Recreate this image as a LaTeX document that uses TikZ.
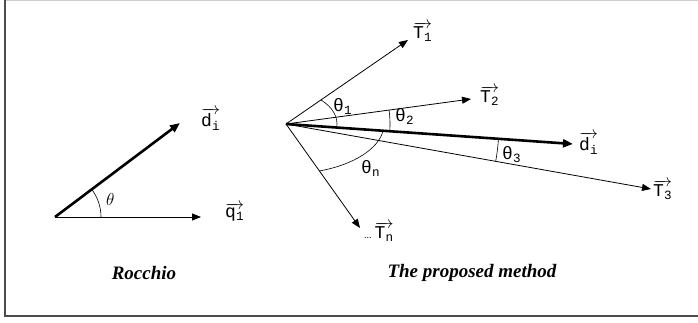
\documentclass[tikz,border=0pt]{standalone}
\usepackage{fontspec}
\setmainfont{Liberation Serif}
\newfontfamily\monofont{Liberation Mono}
\usetikzlibrary{arrows.meta}
\newcommand{\ovec}[2]{$\overrightarrow{\hbox{#1\textsubscript{#2}}}$}

\begin{document}
\begin{tikzpicture}[x=1pt,y=1pt,>={Triangle[length=9pt,width=7pt]},
    vec/.style={->,line width=0.8pt},
    bigvec/.style={->,line width=2.6pt,>={Triangle[length=10pt,width=8pt]}},
    ang/.style={line width=0.6pt},
    lbl/.style={font=\monofont\fontsize{18}{20}\selectfont,anchor=base west,inner sep=0pt},
    captxt/.style={font=\fontsize{19}{22}\selectfont\bfseries\itshape}]
    \useasboundingbox (0,0) rectangle (698,323);

    % frame
    \draw[gray!40,line width=1pt] (5,322.5) -- (698,322.5);
    \draw[black!70,line width=1.6pt] (698,7) -- (5,7) -- (5,322.5);

    % Rocchio
    \coordinate (r0) at (55,106);
    \coordinate (rd) at (180,200);
    \coordinate (rq) at (201,106);
    \draw[bigvec] (r0) -- (rd);
    \draw[vec] (r0) -- (rq);
    \draw[ang] (r0) ++(0:46) arc[start angle=0,end angle=37,radius=46];
    \node[lbl] (lrd) at (201,196) {\ovec{d}{i}};
    \node[lbl] (lrq) at (225,105) {\ovec{q}{1}};
    \node[lbl,font=\fontsize{18}{20}\selectfont] (lth) at (106,117) {$\theta$};

    % proposed method
    \coordinate (po) at (286,199);
    \coordinate (t1) at (408,283);
    \coordinate (t2) at (471,224);
    \coordinate (pd) at (573,179);
    \coordinate (t3) at (651,134);
    \coordinate (tn) at (360,95);
    \draw[vec] (po) -- (t1);
    \draw[vec] (po) -- (t2);
    \draw[vec] (po) -- (t3);
    \draw[vec] (po) -- (tn);
    \draw[bigvec] (po) -- (pd);
    \draw[ang] (po) ++(-6.2:51 and 33) arc[start angle=-6.2,end angle=46.7,x radius=51,y radius=33];
    \draw[ang] (po) ++(-4:104) arc[start angle=-4,end angle=7.7,radius=104];
    \draw[ang] (po) ++(-10.1:213) arc[start angle=-10.1,end angle=-4,radius=213];
    \draw[ang] (po) ++(-70.1:98 and 50) arc[start angle=-70.1,end angle=-7.8,x radius=98,y radius=50];
    \node[lbl] (lt1) at (413,284) {\ovec{T}{1}};
    \node[lbl] (lt2) at (480,220) {\ovec{T}{2}};
    \node[lbl] (lpd) at (579,172) {\ovec{d}{i}};
    \node[lbl] (lt3) at (653,126) {\ovec{T}{3}};
    \node[lbl] (ltn) at (364,84) {{\rmfamily\fontsize{10}{12}\selectfont...}\,\ovec{T}{n}};
    \node[lbl] (lth1) at (333,211) {θ\textsubscript{1}};
    \node[lbl] (lth2) at (395,201) {θ\textsubscript{2}};
    \node[lbl] (lth3) at (502,163) {θ\textsubscript{3}};
    \node[lbl] (lthn) at (361,149) {θ\textsubscript{n}};

    % captions
    \node[captxt] (rocchio) at (144,50) {Rocchio};
    \node[captxt] (proposed) at (472,50) {The proposed method};
\end{tikzpicture}
\end{document}
